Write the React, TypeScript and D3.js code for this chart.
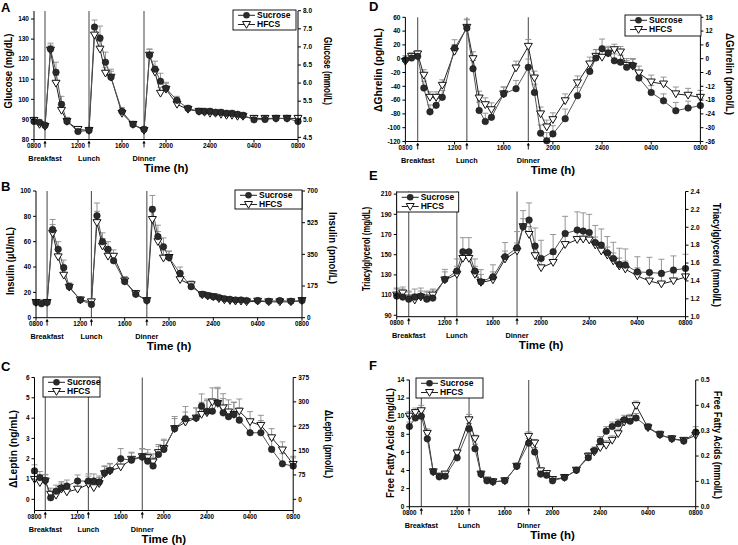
import React from "react";
import * as d3 from "d3";

// ---------------- data ----------------
const TIMES = [8, 8.5, 9, 9.5, 10, 10.5, 11, 12, 13, 13.5, 14, 14.5, 15, 16, 17, 18, 18.5, 19, 19.5, 20, 21, 22, 23, 23.5, 24, 24.5, 25, 25.5, 26, 26.5, 27, 28, 29, 30, 31, 32];
const X_TICKS = [8, 12, 16, 20, 24, 28, 32];
const X_TICK_LABELS = ["0800", "1200", "1600", "2000", "2400", "0400", "0800"];
const MEALS = [9, 13, 18];
const MEAL_LABELS = ["Breakfast", "Lunch", "Dinner"];
const SERIES_NAMES = ["Sucrose", "HFCS"];

const GLU_SUC = [89, 88.5, 87, 125, 113.5, 97.5, 89, 84, 84.5, 136, 130.5, 118.5, 111, 94, 87.5, 85, 122, 115, 109, 105.5, 99.5, 95.5, 94, 94, 94, 93.5, 93.5, 93, 93, 92.5, 92, 89.8, 90, 90.5, 90.5, 89];
const GLU_HFCS = [89.5, 87.5, 86.5, 124.5, 108, 94.5, 89, 85, 84.5, 132, 125, 113, 111, 93, 87.5, 84.5, 122, 113.5, 103, 105, 97.5, 95, 94, 93.5, 93, 93, 92.5, 92, 92, 91.5, 91.5, 90.5, 90.5, 90.5, 90.5, 90.5];
const GLU_SUC_ERR = [1.5, 1.5, 1.5, 3, 5, 4, 2, 1.5, 1.5, 3.5, 6, 5, 4, 2, 1.5, 1.5, 3, 4, 4, 3, 2, 1.5, 1.5, 1.5, 1.5, 1.5, 1.5, 1.5, 1.5, 1.5, 1.5, 1.5, 1.5, 1.5, 1.5, 1.5];
const GLU_HFCS_ERR = [1.5, 1.5, 1.5, 2.5, 4, 4, 2, 1.5, 1.5, 3, 4, 3, 3, 2, 1.5, 1.5, 3, 3, 3, 3, 2, 1.5, 1.5, 1.5, 1.5, 1.5, 1.5, 1.5, 1.5, 1.5, 1.5, 1.5, 1.5, 1.5, 1.5, 1.5];

const INS_SUC = [12, 11, 12, 69.5, 54, 39.5, 24.5, 14, 10.5, 80.5, 60, 54, 45, 28.5, 18.5, 13.5, 85.5, 64, 56, 47.5, 35, 24.5, 18.5, 17.5, 16.5, 16, 15, 14.5, 14, 14, 13.5, 13.5, 13, 13.5, 13, 13.5];
const INS_HFCS = [12, 11.5, 12, 66.5, 48, 33.5, 24, 14, 12.5, 75, 56.5, 48.5, 48.5, 29, 19, 13.5, 77.5, 60, 47, 47.5, 30, 26, 18, 17, 16.5, 15, 14, 13.5, 13, 13, 12.5, 13, 12.5, 12.5, 12.5, 13.5];
const INS_SUC_ERR = [2, 1.5, 1.5, 8, 6, 6, 3, 2, 2, 10, 7, 6, 5, 4, 3, 2, 11, 9, 7, 5, 5, 3, 2, 2, 2, 1.5, 1.5, 1.5, 1.5, 1.5, 1.5, 1.5, 1.5, 1.5, 1.5, 1.5];
const INS_HFCS_ERR = [1.5, 1.5, 1.5, 7, 5, 5, 3, 2, 2, 9, 6, 5, 5, 3, 2, 1.5, 10, 8, 6, 5, 4, 3, 2, 2, 2, 1.5, 1.5, 1.5, 1.5, 1.5, 1.5, 1.5, 1.5, 1.5, 1.5, 1.5];

const LEP_SUC = [1.4, 1.07, 0.93, 0.08, 0.4, 0.57, 0.65, 0.9, 0.9, 0.9, 0.85, 1.3, 1.42, 2.0, 1.93, 2.08, 1.88, 1.64, 2.21, 2.46, 3.48, 3.97, 4.0, 4.59, 4.34, 4.34, 4.75, 4.26, 4.07, 4.18, 3.9, 3.28, 3.28, 2.46, 1.75, 1.64];
const LEP_HFCS = [0.98, 0.82, 0.9, 0.25, 0.2, 0.5, 0.36, 0.5, 0.74, 0.57, 0.77, 1.26, 1.39, 1.59, 1.97, 2.1, 2.05, 1.84, 2.3, 2.5, 3.48, 3.8, 4.0, 4.18, 4.26, 4.79, 4.72, 4.5, 4.3, 4.18, 4.34, 3.82, 3.64, 3.03, 2.43, 1.72];
const LEP_SUC_ERR = [0.3, 0.3, 0.3, 0.3, 0.3, 0.3, 0.3, 0.3, 0.35, 0.35, 0.3, 0.35, 0.35, 0.5, 0.35, 0.4, 0.4, 0.4, 0.4, 0.5, 0.6, 0.6, 0.5, 0.6, 0.6, 0.6, 0.7, 0.7, 0.6, 0.6, 0.6, 0.6, 0.6, 0.5, 0.5, 0.4];
const LEP_HFCS_ERR = [0.3, 0.3, 0.3, 0.3, 0.3, 0.3, 0.3, 0.3, 0.4, 0.3, 0.3, 0.35, 0.35, 0.35, 0.35, 0.4, 0.4, 0.4, 0.4, 0.4, 0.5, 0.5, 0.5, 0.6, 0.6, 0.7, 0.8, 0.7, 0.6, 0.6, 0.6, 0.5, 0.5, 0.45, 0.4, 0.4];

const GHR_SUC = [-1.5, 1, 3.4, -42.5, -77, -67.6, -56, 15.5, 44.4, -14.5, -75, -91, -85, -51, -43.5, -12.5, -49, -108, -119, -109, -87, -53.6, -18.4, 1, 14.5, 8, -3, -5, -12.5, -9.7, -28, -49, -61, -75.4, -71.5, -68];
const GHR_HFCS = [-4, 3.4, 6.8, -24, -56, -56, -38.6, 10.6, 45.4, 0, -57, -66.7, -74, -51, -13.5, 17.9, -28, -80, -99, -88.4, -61, -35, -7.7, 3.4, 2, 8, 13, 9.7, -9.7, -11, -20.8, -33.8, -36.7, -51, -53, -56];
const GHR_SUC_ERR = [6, 6, 6, 10, 10, 10, 10, 12, 12, 12, 12, 12, 12, 10, 12, 12, 12, 12, 12, 12, 14, 12, 12, 12, 14, 10, 10, 10, 10, 10, 10, 10, 10, 12, 10, 10];
const GHR_HFCS_ERR = [5, 5, 5, 8, 8, 8, 8, 10, 12, 10, 10, 10, 10, 10, 10, 10, 10, 10, 10, 10, 10, 10, 10, 10, 10, 8, 8, 8, 10, 10, 10, 10, 10, 10, 10, 10];

const TG_SUC = [109, 108, 106, 108, 109, 106, 107, 125.5, 133.8, 152.9, 152.9, 133.8, 123.2, 128, 148, 156.9, 177.7, 184.3, 158.5, 146.3, 153, 171, 174.4, 173.4, 172, 162, 159.5, 152, 146.3, 140.4, 139.7, 133, 132.4, 131.5, 134.8, 136.4];
const TG_HFCS = [110, 112, 107, 105, 108, 107, 110, 125, 130.5, 146.3, 146.3, 130.5, 122.5, 125, 145.6, 153.6, 177.7, 170, 149, 137, 142.3, 160, 165, 165.4, 164.5, 159.5, 153.6, 149.6, 143.7, 138.7, 135.7, 129, 123.9, 121, 124, 128];
const TG_SUC_ERR = [8, 8, 8, 8, 8, 8, 8, 10, 12, 14, 14, 12, 12, 12, 14, 16, 16, 17, 18, 18, 17, 17, 18, 18, 18, 17, 16, 16, 16, 16, 16, 15, 15, 14, 14, 14];
const TG_HFCS_ERR = [6, 6, 6, 6, 6, 6, 6, 8, 8, 8, 8, 8, 8, 8, 8, 8, 8, 8, 8, 8, 8, 8, 8, 8, 8, 8, 8, 8, 8, 8, 8, 8, 8, 8, 8, 8];

const FFA_SUC = [8.86, 9.8, 10.0, 7.5, 3.85, 3.3, 3.37, 5.4, 8.6, 6.4, 3.6, 2.86, 2.75, 2.86, 4.47, 7.03, 6.04, 3.6, 3.48, 2.86, 3.22, 4.03, 5.42, 6.2, 7.25, 8.35, 8.86, 9.16, 9.6, 9.45, 9.8, 8.8, 7.95, 7.5, 7.25, 8.24];
const FFA_HFCS = [10.0, 10.4, 10.6, 8.1, 3.85, 3.37, 3.6, 5.93, 9.6, 7.5, 3.6, 2.93, 2.75, 2.86, 4.47, 7.77, 7.03, 3.96, 3.66, 3.0, 3.22, 4.03, 5.57, 6.04, 6.52, 6.78, 7.33, 8.06, 9.34, 9.7, 11.17, 8.72, 7.95, 7.5, 7.33, 7.88];
const FFA_SUC_ERR = [0.5, 0.5, 0.5, 0.5, 0.3, 0.3, 0.3, 0.4, 0.6, 0.5, 0.3, 0.3, 0.3, 0.3, 0.3, 0.5, 0.5, 0.3, 0.3, 0.3, 0.3, 0.3, 0.4, 0.4, 0.5, 0.5, 0.5, 0.5, 0.5, 0.5, 0.5, 0.4, 0.4, 0.3, 0.3, 0.6];
const FFA_HFCS_ERR = [0.5, 0.5, 0.6, 0.5, 0.3, 0.3, 0.3, 0.4, 0.6, 0.4, 0.3, 0.3, 0.3, 0.3, 0.3, 0.5, 0.4, 0.3, 0.3, 0.3, 0.3, 0.3, 0.4, 0.4, 0.5, 0.5, 0.5, 0.5, 0.5, 0.5, 0.5, 0.4, 0.4, 0.3, 0.3, 0.4];

const GLU_TICKS = [80, 90, 100, 110, 120, 130, 140];
const GLU_R_TICKS = [4.5, 5.0, 5.5, 6.0, 6.5, 7.0, 7.5, 8.0];
const INS_TICKS = [0, 20, 40, 60, 80, 100];
const INS_R_TICKS = [0, 175, 350, 525, 700];
const LEP_TICKS = [0, 1, 2, 3, 4, 5, 6];
const LEP_R_TICKS = [0, 75, 150, 225, 300, 375];
const GHR_TICKS = [-120, -100, -80, -60, -40, -20, 0, 20, 40, 60];
const GHR_R_TICKS = [-36, -30, -24, -18, -12, -6, 0, 6, 12, 18];
const TG_TICKS = [90, 110, 130, 150, 170, 190, 210];
const TG_R_TICKS = [1.0, 1.2, 1.4, 1.6, 1.8, 2.0, 2.2, 2.4];
const FFA_TICKS = [0, 2, 4, 6, 8, 10, 12, 14];
const FFA_R_TICKS = [0.0, 0.1, 0.2, 0.3, 0.4, 0.5];

// ---------------- layout ----------------
const FONT = "'Liberation Sans', Arial, Helvetica, sans-serif";

type Lbl = { text: string; x: number; cy: number; len: number };
type Cfg = {
  letter: string; lx: number; ly: number;
  x0: number; x1: number; yB: number; yT: number;
  dom: [number, number]; ticks: number[];
  rdom: [number, number]; rticks: number[]; rfmt: (v: number) => string;
  suc: number[]; hfcs: number[]; sucErr: number[]; hfcsErr: number[];
  left: Lbl; right: Lbl;
  leg: [number, number, number, number];
};

const f1 = (v: number) => v.toFixed(1);
const f0 = (v: number) => String(v);

const PANELS: Cfg[] = [
  { letter: "A", lx: 1, ly: 12, x0: 34, x1: 298, yB: 139.5, yT: 11, dom: [80, 144], ticks: GLU_TICKS,
    rdom: [80 / 18.016, 144 / 18.016], rticks: GLU_R_TICKS, rfmt: f1,
    suc: GLU_SUC, hfcs: GLU_HFCS, sucErr: GLU_SUC_ERR, hfcsErr: GLU_HFCS_ERR,
    left: { text: "Glucose (mg/dL)", x: 8, cy: 71, len: 75 },
    right: { text: "Glucose (mmol/L)", x: 327, cy: 71, len: 68 },
    leg: [233, 10, 63, 20] },
  { letter: "B", lx: 1, ly: 191, x0: 36, x1: 302, yB: 317.7, yT: 191, dom: [0, 100], ticks: INS_TICKS,
    rdom: [0, 700], rticks: INS_R_TICKS, rfmt: f0,
    suc: INS_SUC, hfcs: INS_HFCS, sucErr: INS_SUC_ERR, hfcsErr: INS_HFCS_ERR,
    left: { text: "Insulin (\u00B5U/mL)", x: 10, cy: 261, len: 68 },
    right: { text: "Insulin (pmol/L)", x: 332, cy: 248, len: 72 },
    leg: [235, 190, 67, 19] },
  { letter: "C", lx: 1, ly: 371, x0: 34.5, x1: 293.2, yB: 510.5, yT: 377.5, dom: [-0.55, 6], ticks: LEP_TICKS,
    rdom: [-0.55 * 62.5, 375], rticks: LEP_R_TICKS, rfmt: f0,
    suc: LEP_SUC, hfcs: LEP_HFCS, sucErr: LEP_SUC_ERR, hfcsErr: LEP_HFCS_ERR,
    left: { text: "\u0394Leptin (ng/mL)", x: 13, cy: 449, len: 78 },
    right: { text: "\u0394Leptin (pmol/L)", x: 328, cy: 444, len: 68 },
    leg: [43, 377, 57, 20] },
  { letter: "D", lx: 369, ly: 11, x0: 405.4, x1: 700.4, yB: 141.5, yT: 17.3, dom: [-120, 60], ticks: GHR_TICKS,
    rdom: [-36, 18], rticks: GHR_R_TICKS, rfmt: f0,
    suc: GHR_SUC, hfcs: GHR_HFCS, sucErr: GHR_SUC_ERR, hfcsErr: GHR_HFCS_ERR,
    left: { text: "\u0394Ghrelin (pg/mL)", x: 378, cy: 70, len: 84 },
    right: { text: "\u0394Ghrelin (pmol/L)", x: 729, cy: 74, len: 82 },
    leg: [625, 15, 76, 21] },
  { letter: "E", lx: 369, ly: 180, x0: 396.7, x1: 685.5, yB: 316.7, yT: 191.5, dom: [88.6, 212.6], ticks: TG_TICKS,
    rdom: [1.0, 2.4], rticks: TG_R_TICKS, rfmt: f1,
    suc: TG_SUC, hfcs: TG_HFCS, sucErr: TG_SUC_ERR, hfcsErr: TG_HFCS_ERR,
    left: { text: "Triacylglycerol (mg/dL)", x: 366, cy: 249, len: 84 },
    right: { text: "Triacylglycerol (mmol/L)", x: 716, cy: 255, len: 104 },
    leg: [396.7, 192, 62, 20] },
  { letter: "F", lx: 369, ly: 370, x0: 409.4, x1: 695.7, yB: 506.7, yT: 380, dom: [0, 14], ticks: FFA_TICKS,
    rdom: [0, 0.5], rticks: FFA_R_TICKS, rfmt: f1,
    suc: FFA_SUC, hfcs: FFA_HFCS, sucErr: FFA_SUC_ERR, hfcsErr: FFA_HFCS_ERR,
    left: { text: "Free Fatty Acids (mg/dL)", x: 390, cy: 443, len: 110 },
    right: { text: "Free Fatty Acids (mmol/L)", x: 717, cy: 445, len: 108 },
    leg: [416, 378, 67, 20] },
];

const tri = (x: number, y: number, s = 4) => `M${x - s},${y - s * 0.75}L${x + s},${y - s * 0.75}L${x},${y + s * 0.95}Z`;

function Panel({ c }: { c: Cfg }) {
  const xs = d3.scaleLinear().domain([8, 32]).range([c.x0, c.x1]);
  const ys = d3.scaleLinear().domain(c.dom).range([c.yB, c.yT]);
  const yr = d3.scaleLinear().domain(c.rdom).range([c.yB, c.yT]);
  const line = d3.line<number>().x((_, i) => xs(TIMES[i])).y((d) => ys(d));
  const errBars = (vals: number[], errs: number[], key: string) =>
    vals.map((v, i) => {
      const x = xs(TIMES[i]);
      const ya = ys(v);
      const yt = ys(v + errs[i]);
      return (
        <g key={key + i} stroke="#8a8a8a" strokeWidth={0.9}>
          <line x1={x} x2={x} y1={ya} y2={yt} />
          <line x1={x - 3} x2={x + 3} y1={yt} y2={yt} />
        </g>
      );
    });
  const [lgx, lgy, lgw, lgh] = c.leg;
  return (
    <g fontFamily={FONT} fontWeight="bold">
      <text x={c.lx} y={c.ly} fontSize={13}>{c.letter}</text>
      {MEALS.map((m, i) => (
        <line key={"ml" + i} x1={xs(m)} x2={xs(m)} y1={c.yB} y2={c.yT} stroke="#555" strokeWidth={1.1} />
      ))}
      {errBars(c.hfcs, c.hfcsErr, "he")}
      {errBars(c.suc, c.sucErr, "se")}
      <path d={line(c.hfcs) || ""} fill="none" stroke="#222" strokeWidth={1} />
      <path d={line(c.suc) || ""} fill="none" stroke="#555" strokeWidth={1} />
      {c.hfcs.map((v, i) => (
        <path key={"hm" + i} d={tri(xs(TIMES[i]), ys(v))} fill="#fff" stroke="#111" strokeWidth={1} />
      ))}
      {c.suc.map((v, i) => (
        <circle key={"sm" + i} cx={xs(TIMES[i])} cy={ys(v)} r={3.3} fill="#2a2a2a" stroke="#111" strokeWidth={0.5} />
      ))}
      <line x1={c.x0} x2={c.x0} y1={c.yB} y2={c.yT} stroke="#000" strokeWidth={1} />
      <line x1={c.x1} x2={c.x1} y1={c.yB} y2={c.yT} stroke="#000" strokeWidth={1} />
      <line x1={c.x0} x2={c.x1} y1={c.yB} y2={c.yB} stroke="#000" strokeWidth={1} />
      {c.ticks.map((t) => (
        <g key={"lt" + t}>
          <line x1={c.x0 - 3} x2={c.x0} y1={ys(t)} y2={ys(t)} stroke="#000" />
          <text x={c.x0 - 5} y={ys(t)} dy="0.35em" textAnchor="end" fontSize={6.5}>{t}</text>
        </g>
      ))}
      {c.rticks.map((t) => (
        <g key={"rt" + t}>
          <line x1={c.x1} x2={c.x1 + 3} y1={yr(t)} y2={yr(t)} stroke="#000" />
          <text x={c.x1 + 5} y={yr(t)} dy="0.35em" textAnchor="start" fontSize={6.5}>{c.rfmt(t)}</text>
        </g>
      ))}
      {X_TICKS.map((t, i) => (
        <g key={"xt" + i}>
          <line x1={xs(t)} x2={xs(t)} y1={c.yB} y2={c.yB + 3} stroke="#000" />
          <text x={xs(t)} y={c.yB + 8} textAnchor="middle" fontSize={6.3}>{X_TICK_LABELS[i]}</text>
        </g>
      ))}
      {MEALS.map((m, i) => (
        <g key={"ma" + i}>
          <line x1={xs(m)} x2={xs(m)} y1={c.yB + 2.5} y2={c.yB + 8} stroke="#000" strokeWidth={0.9} />
          <path d={`M${xs(m) - 1.6},${c.yB + 4}L${xs(m) + 1.6},${c.yB + 4}L${xs(m)},${c.yB + 1}Z`} fill="#000" />
          <text x={xs(m)} y={c.yB + 21} textAnchor="middle" fontSize={7.3}>{MEAL_LABELS[i]}</text>
        </g>
      ))}
      <text x={(c.x0 + c.x1) / 2} y={c.yB + 32} textAnchor="middle" fontSize={11.5}>Time (h)</text>
      <text transform={`translate(${c.left.x},${c.left.cy}) rotate(-90)`} textAnchor="middle" dominantBaseline="central"
        fontSize={10} textLength={c.left.len} lengthAdjust="spacingAndGlyphs">{c.left.text}</text>
      <text transform={`translate(${c.right.x},${c.right.cy}) rotate(90)`} textAnchor="middle" dominantBaseline="central"
        fontSize={10} textLength={c.right.len} lengthAdjust="spacingAndGlyphs">{c.right.text}</text>
      <rect x={lgx} y={lgy} width={lgw} height={lgh} fill="#fff" stroke="#000" strokeWidth={0.9} />
      {SERIES_NAMES.map((n, i) => {
        const yy = lgy + 5.3 + i * 9.2;
        const mx = lgx + 13.5;
        return (
          <g key={"lg" + i}>
            <line x1={lgx + 5} x2={lgx + 22} y1={yy} y2={yy} stroke="#222" />
            {i === 0 ? (
              <circle cx={mx} cy={yy} r={3.3} fill="#2a2a2a" />
            ) : (
              <path d={tri(mx, yy)} fill="#fff" stroke="#111" />
            )}
            <text x={lgx + 24} y={yy} dy="0.35em" fontSize={8.5}>{n}</text>
          </g>
        );
      })}
    </g>
  );
}

export default function App() {
  return (
    <svg width={738} height={545} style={{ position: "absolute", left: 0, top: 0, background: "#fff" }}>
      <rect x={0} y={0} width={738} height={545} fill="#fff" />
      {PANELS.map((c) => (
        <Panel key={c.letter} c={c} />
      ))}
    </svg>
  );
}
